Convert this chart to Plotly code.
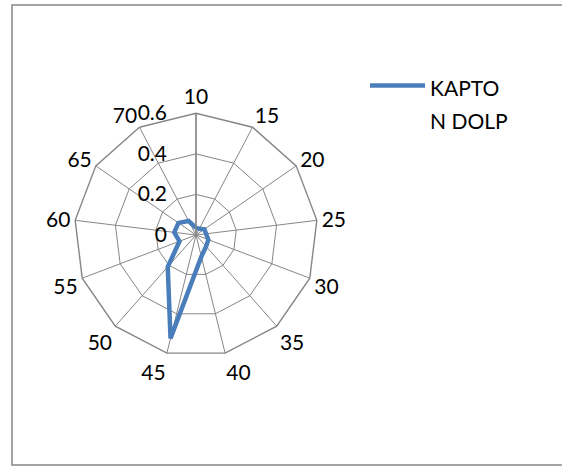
import plotly.graph_objects as go

# Spoke categories and measured values
categories = ["10", "15", "20", "25", "30", "35", "40", "45", "50", "55", "60", "65", "70"]
dolp_values = [0.035, 0.035, 0.05, 0.05, 0.065, 0.075, 0.11, 0.525, 0.21, 0.087, 0.108, 0.105, 0.078]
series_lines = ["KAPTO", "N DOLP"]
radial_ticks = [0, 0.2, 0.4, 0.6]
radial_ticktext = ["0", "0.2", "0.4", "0.6"]

W, H = 562, 466
GRID = "#868686"
FONT = "Lato, 'Open Sans', sans-serif"
LABEL_SIZE = 21

# close the polygon
r_closed = dolp_values + dolp_values[:1]
theta_closed = categories + categories[:1]

legend_name = "<br>".join(
    f"<span style='font-size:{LABEL_SIZE}px'>{s}</span>" for s in series_lines
)

fig = go.Figure()
fig.add_trace(go.Scatterpolar(
    r=r_closed,
    theta=theta_closed,
    mode="lines",
    name=legend_name,
    line=dict(color="#4A7EBB", width=4.5),
    showlegend=True,
))

cx, cy, rad = 196, 235, 121.7
fig.update_layout(
    width=W, height=H,
    margin=dict(l=0, r=0, t=0, b=0),
    paper_bgcolor="white",
    plot_bgcolor="white",
    font=dict(family=FONT, size=LABEL_SIZE, color="black"),
    polar=dict(
        domain=dict(x=[(cx - rad) / W, (cx + rad) / W],
                    y=[(H - cy - rad) / H, (H - cy + rad) / H]),
        gridshape="linear",
        bgcolor="white",
        angularaxis=dict(
            direction="clockwise",
            rotation=90,
            type="category",
            categoryarray=categories,
            showline=True,
            linecolor=GRID,
            linewidth=1.4,
            gridcolor=GRID,
            gridwidth=1.4,
            ticks="",
            tickfont=dict(size=LABEL_SIZE, family=FONT, color="black"),
        ),
        radialaxis=dict(
            range=[0, 0.6],
            tickvals=radial_ticks,
            ticktext=radial_ticktext,
            angle=90,
            side="counterclockwise",
            showline=True,
            linecolor=GRID,
            linewidth=1.4,
            gridcolor=GRID,
            gridwidth=1.4,
            ticks="outside",
            ticklen=21,
            tickcolor="rgba(0,0,0,0)",
            tickangle=90,
            tickfont=dict(size=LABEL_SIZE, family=FONT, color="black"),
        ),
    ),
    legend=dict(
        x=365 / W, y=1 - 62 / H,
        xanchor="left", yanchor="top",
        valign="top",
        itemwidth=55,
        font=dict(size=26, family=FONT, color="black"),
        bgcolor="rgba(0,0,0,0)",
    ),
    shapes=[dict(
        type="rect", xref="paper", yref="paper",
        x0=12 / W, x1=1.02, y0=1 / H, y1=1 - 5 / H,
        line=dict(color=GRID, width=1.5),
        fillcolor="rgba(0,0,0,0)",
        layer="below",
    )],
)

fig.write_html("out.html")
